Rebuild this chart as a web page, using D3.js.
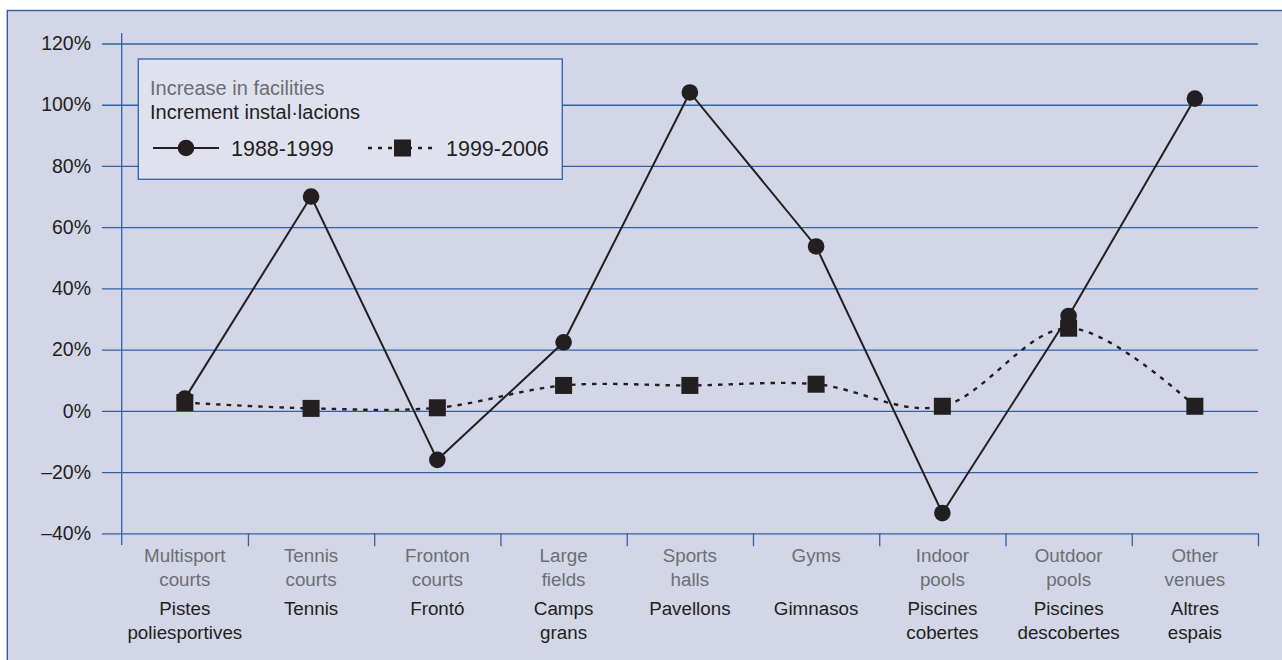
<!DOCTYPE html>
<html>
<head>
<meta charset="utf-8">
<script src="https://cdn.jsdelivr.net/npm/d3@7"></script>
<style>
  html, body { margin: 0; padding: 0; background: #ffffff; }
  svg { display: block; font-family: "Liberation Sans", Arial, sans-serif; }
</style>
</head>
<body>
<svg id="chart" width="1282" height="660"></svg>
<script>
// ---------- data ----------
const categoryKeys = ["multisport", "tennis", "fronton", "large", "halls", "gyms", "indoor", "outdoor", "other"];
const labelsEn = [["Multisport", "courts"], ["Tennis", "courts"], ["Fronton", "courts"], ["Large", "fields"], ["Sports", "halls"], ["Gyms"], ["Indoor", "pools"], ["Outdoor", "pools"], ["Other", "venues"]];
const labelsCa = [["Pistes", "poliesportives"], ["Tennis"], ["Frontó"], ["Camps", "grans"], ["Pavellons"], ["Gimnasos"], ["Piscines", "cobertes"], ["Piscines", "descobertes"], ["Altres", "espais"]];
const values1988_1999 = [4, 70, -16, 22.4, 104, 53.7, -33.4, 31, 102];
const values1999_2006 = [2.7, 0.8, 1, 8.3, 8.3, 8.7, 1.5, 27, 1.5];
const yTickValues = [-40, -20, 0, 20, 40, 60, 80, 100, 120];
const legendTitleEn = "Increase in facilities";
const legendTitleCa = "Increment instal·lacions";
const seriesNames = ["1988-1999", "1999-2006"];

(function () {
// ---------- styles ----------
const BG = "#d3d6e7", LEGEND_BG = "#dfe1ee", BLUE = "#2f62a5", DARK = "#231f20", GRAY = "#6d6e71";

const svg = d3.select("#chart");

// frame
svg.append("rect").attr("x", 7.3).attr("y", 10.5).attr("width", 1300).attr("height", 700)
  .attr("fill", BG).attr("stroke", BLUE).attr("stroke-width", 1.4);

const pLeft = 121.7, pRight = 1258, pTop = 43.5, pBottom = 533.3;

const x = d3.scaleBand().domain(categoryKeys).range([pLeft, pRight]).padding(0);
const xIdx = d3.scaleLinear().domain([0, categoryKeys.length]).range([pLeft, pRight]);
const y = d3.scaleLinear().domain([-40, 120]).range([pBottom, pTop]);
const cx = k => x(k) + x.bandwidth() / 2;

// y grid + labels
const fmt = v => (v < 0 ? "\u2013" + Math.abs(v) : v) + "%";
const yAxis = d3.axisLeft(y).tickValues(yTickValues).tickSize(pRight - 102).tickPadding(11).tickFormat(fmt);
const gy = svg.append("g").attr("transform", `translate(${pRight},0)`).call(yAxis);
gy.select(".domain").remove();
gy.selectAll(".tick line").attr("stroke", BLUE).attr("stroke-width", 1.3);
gy.selectAll(".tick text").attr("fill", DARK).attr("font-size", 19.5)
  .attr("font-family", "'Liberation Sans', Arial, sans-serif");

// vertical axis line
svg.append("line").attr("x1", pLeft).attr("x2", pLeft).attr("y1", 33).attr("y2", 545)
  .attr("stroke", BLUE).attr("stroke-width", 1.3);

// bottom ticks at category boundaries
const xAxis = d3.axisBottom(xIdx).tickValues(d3.range(1, categoryKeys.length + 1)).tickSize(13).tickFormat("");
const gx = svg.append("g").attr("transform", `translate(0,${pBottom})`).call(xAxis);
gx.select(".domain").remove();
gx.selectAll(".tick line").attr("stroke", BLUE).attr("stroke-width", 1.3);

// category labels
const lab = svg.append("g").attr("font-size", 18.8).attr("text-anchor", "middle");
categoryKeys.forEach((k, i) => {
  labelsEn[i].forEach((t, j) => {
    lab.append("text").attr("x", cx(k)).attr("y", 561.7 + j * 24).attr("fill", GRAY).text(t);
  });
  labelsCa[i].forEach((t, j) => {
    lab.append("text").attr("x", cx(k)).attr("y", 615 + j * 24).attr("fill", DARK).text(t);
  });
});

// series lines
const pts1 = categoryKeys.map((k, i) => [cx(k), y(values1988_1999[i])]);
const pts2 = categoryKeys.map((k, i) => [cx(k), y(values1999_2006[i])]);

svg.append("path").attr("d", d3.line().curve(d3.curveCatmullRom.alpha(0))(pts2))
  .attr("fill", "none").attr("stroke", DARK).attr("stroke-width", 2.4).attr("stroke-dasharray", "4.5,6");
svg.append("path").attr("d", d3.line()(pts1))
  .attr("fill", "none").attr("stroke", DARK).attr("stroke-width", 2);

const SQ = 17;
svg.append("g").selectAll("rect").data(pts2).join("rect")
  .attr("x", d => d[0] - SQ / 2).attr("y", d => d[1] - SQ / 2).attr("width", SQ).attr("height", SQ)
  .attr("fill", DARK);
svg.append("g").selectAll("circle").data(pts1).join("circle")
  .attr("cx", d => d[0]).attr("cy", d => d[1]).attr("r", 8.3).attr("fill", DARK);

// legend
const lg = svg.append("g");
lg.append("rect").attr("x", 138.3).attr("y", 59).attr("width", 424).attr("height", 120.3)
  .attr("fill", LEGEND_BG).attr("stroke", BLUE).attr("stroke-width", 1.3);
lg.append("text").attr("x", 150).attr("y", 95).attr("font-size", 20).attr("fill", GRAY).text(legendTitleEn);
lg.append("text").attr("x", 150).attr("y", 119.3).attr("font-size", 20).attr("fill", DARK).text(legendTitleCa);
lg.append("line").attr("x1", 153).attr("x2", 219).attr("y1", 148).attr("y2", 148)
  .attr("stroke", DARK).attr("stroke-width", 2);
lg.append("circle").attr("cx", 186).attr("cy", 148).attr("r", 8.3).attr("fill", DARK);
lg.append("text").attr("x", 231).attr("y", 155.5).attr("font-size", 21.5).attr("fill", DARK).text(seriesNames[0]);
lg.append("line").attr("x1", 368).attr("x2", 437).attr("y1", 148).attr("y2", 148)
  .attr("stroke", DARK).attr("stroke-width", 2.4).attr("stroke-dasharray", "4,6");
lg.append("rect").attr("x", 402.5 - SQ / 2).attr("y", 148 - SQ / 2).attr("width", SQ).attr("height", SQ).attr("fill", DARK);
lg.append("text").attr("x", 446).attr("y", 155.5).attr("font-size", 21.5).attr("fill", DARK).text(seriesNames[1]);
})();
</script>
</body>
</html>
